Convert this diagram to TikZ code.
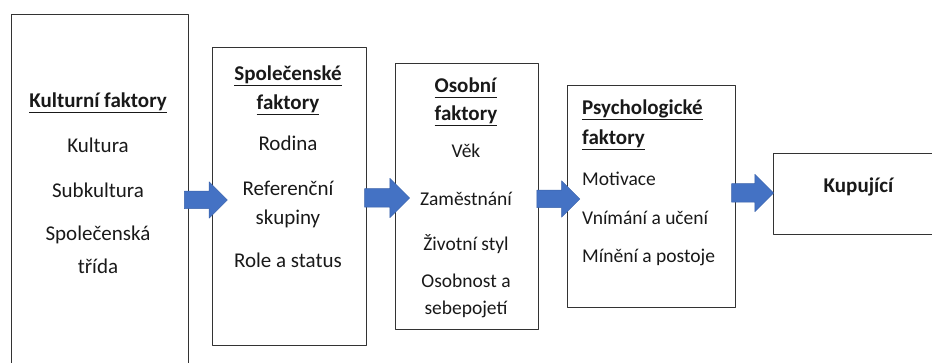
\documentclass[tikz,border=0pt]{standalone}
\usepackage{fontspec}
\setmainfont{Carlito}
\usetikzlibrary{shapes.arrows}
\definecolor{arrowblue}{HTML}{4472C4}
\definecolor{arrowedge}{HTML}{3A62AA}
\newsavebox{\headbox}
\newcommand{\heading}[1]{\sbox{\headbox}{\fontsize{21}{25}\selectfont\textbf{#1}}\rlap{\rule[-5pt]{\wd\headbox}{1.3pt}}\usebox{\headbox}}
\tikzset{
  factorbox/.style={draw=black!80, line width=1.1pt, anchor=north west, inner sep=0pt},
  flowarrow/.style={single arrow, fill=arrowblue, draw=arrowedge, line width=0.5pt,
    inner xsep=0pt, inner ysep=8.5pt, single arrow head extend=9.5pt, minimum height=43pt},
  line/.style={anchor=base, text=black!90, inner xsep=0pt},
  bigtext/.style={font=\fontsize{21}{25}\selectfont},
  smalltext/.style={font=\fontsize{19.5}{23}\selectfont}
}
\begin{document}
\begin{tikzpicture}[x=1pt, y=-1pt, line join=round]
\useasboundingbox (0,0) rectangle (932,363);
\clip (0,0) rectangle (932,363);
% boxes
\node[factorbox, minimum width=177pt, minimum height=366pt] (kult) at (11,14) {};
\node[factorbox, minimum width=154pt, minimum height=298pt] (spol) at (212,47) {};
\node[factorbox, minimum width=143pt, minimum height=266pt] (osob) at (395,63) {};
\node[factorbox, minimum width=168pt, minimum height=222pt] (psych) at (567,85) {};
\node[factorbox, minimum width=170pt, minimum height=81pt] (kup) at (773,153) {};
% texts
\foreach \t/\y [count=\i] in {{\heading{Kulturní faktory}}/108, Kultura/153, Subkultura/198,
    Společenská/241, třída/274}
  \node[line, bigtext] (kult\i) at (98,\y) {\t};
\foreach \t/\y [count=\i] in {{\heading{Společenské}}/81, {\heading{faktory}}/110, Rodina/151,
    Referenční/196, skupiny/225, Role a status/268}
  \node[line, bigtext] (spol\i) at (288,\y) {\t};
\foreach \t/\y [count=\i] in {{\heading{Osobní}}/93, {\heading{faktory}}/121, Věk/158,
    Zaměstnání/206, Životní styl/251, Osobnost a/288, sebepojetí/315}
  \node[line, smalltext] (osob\i) at (466,\y) {\t};
\foreach \t/\y [count=\i] in {{\heading{Psychologické}}/115, {\heading{faktory}}/145, Motivace/186,
    Vnímání a učení/225, Mínění a postoje/263}
  \node[line, smalltext, anchor=base west] (psych\i) at (582,\y) {\t};
\node[line, bigtext] (kup1) at (859,193) {\textbf{Kupující}};
% arrows
\node[flowarrow] (a1) at (201.5,200) {};
\node[flowarrow, inner ysep=9pt, single arrow head extend=10.5pt, minimum height=45pt] (a2) at (382.5,198) {};
\node[flowarrow] (a3) at (554,199) {};
\node[flowarrow, inner ysep=9pt, minimum height=42pt] (a4) at (748,193) {};
\end{tikzpicture}
\end{document}
